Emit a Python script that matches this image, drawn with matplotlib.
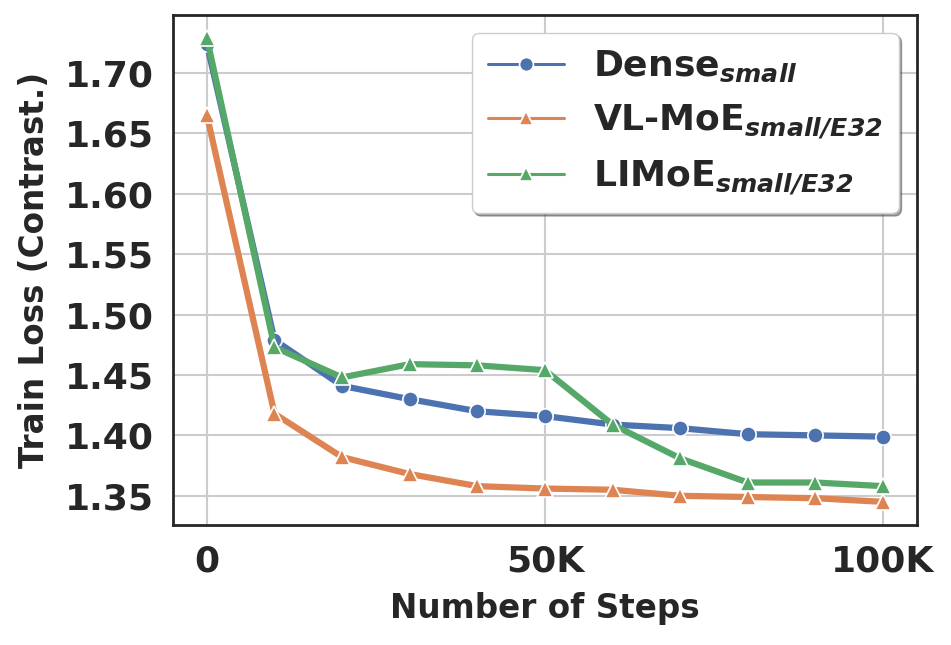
import matplotlib
matplotlib.use('Agg')
import matplotlib.pyplot as plt
import seaborn as sns

steps = [0, 10000, 20000, 30000, 40000, 50000, 60000, 70000, 80000, 90000, 100000]
dense = [1.724, 1.479, 1.441, 1.430, 1.420, 1.416, 1.409, 1.406, 1.401, 1.400, 1.399]
vlmoe = [1.665, 1.418, 1.382, 1.368, 1.358, 1.356, 1.355, 1.350, 1.349, 1.348, 1.345]
limoe = [1.729, 1.473, 1.448, 1.459, 1.458, 1.454, 1.409, 1.381, 1.361, 1.361, 1.358]

xticks = [0, 50000, 100000]
xtick_labels = ['0', '50K', '100K']
yticks = [1.35, 1.40, 1.45, 1.50, 1.55, 1.60, 1.65, 1.70]

labels = [r'Dense$_{\mathbfit{small}}$',
          r'VL-MoE$_{\mathbfit{small/E32}}$',
          r'LIMoE$_{\mathbfit{small/E32}}$']

sns.set_theme(style='whitegrid')
colors = sns.color_palette('deep')
plt.rcParams['font.family'] = ['DejaVu Sans']
plt.rcParams['mathtext.fontset'] = 'dejavusans'

fig = plt.figure(figsize=(9.51, 6.45), dpi=100)
ax = fig.add_axes([0.182, 0.186, 0.782, 0.791])

ax.plot(steps, dense, color=colors[0], marker='o', lw=4.5, ms=11,
        mec='white', mew=1.2, label=labels[0])
ax.plot(steps, vlmoe, color=colors[1], marker='^', lw=4.5, ms=11,
        mec='white', mew=1.2, label=labels[1])
ax.plot(steps, limoe, color=colors[2], marker='^', lw=4.5, ms=11,
        mec='white', mew=1.2, label=labels[2])

ax.set_xticks(xticks)
ax.set_xticklabels(xtick_labels)
ax.set_yticks(yticks)
ax.set_yticklabels(['%.2f' % v for v in yticks])
ax.tick_params(axis='both', labelsize=26, pad=14, length=0, colors='0.15')
for lab in ax.get_xticklabels() + ax.get_yticklabels():
    lab.set_fontweight('bold')

ax.set_xlabel('Number of Steps', fontsize=23.5, fontweight='bold', color='0.15', labelpad=10)
ax.set_ylabel('Train Loss (Contrast.)', fontsize=23.5, fontweight='bold', color='0.15', labelpad=10)

ax.grid(True, color='0.8', lw=1.5)
for s in ax.spines.values():
    s.set_color('0.15')
    s.set_linewidth(2)

leg = ax.legend(loc='upper right', prop={'size': 26, 'weight': 'bold'}, shadow=True,
                fancybox=True, framealpha=1, handlelength=2.1, labelspacing=0.5,
                handletextpad=0.8, borderpad=0.45)
for h in leg.get_lines():
    h.set_linewidth(2.2)
    h.set_markersize(10)
for t in leg.get_texts():
    t.set_color('0.15')
leg.get_frame().set_edgecolor('0.8')

fig.savefig('out.png', dpi=100)
